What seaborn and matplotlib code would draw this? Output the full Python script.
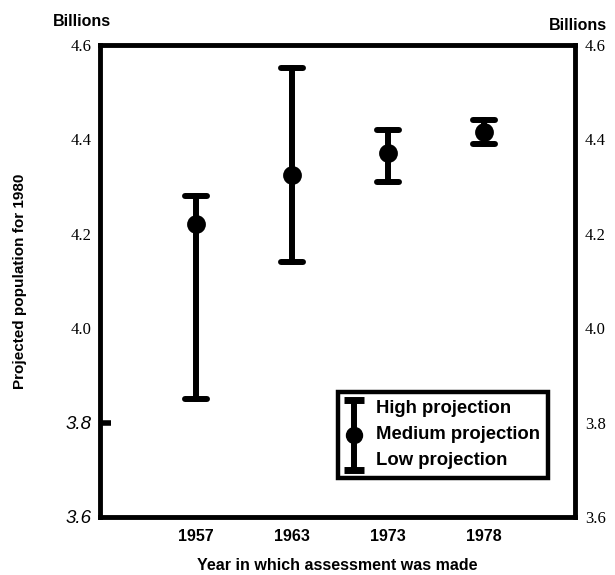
import matplotlib
matplotlib.use("Agg")
import matplotlib.pyplot as plt
import numpy as np
import pandas as pd
import seaborn as sns
from matplotlib.collections import LineCollection
from matplotlib.container import ErrorbarContainer
from matplotlib.legend_handler import HandlerErrorbar
from matplotlib.lines import Line2D

# values (billions)
YEARS = ["1957", "1963", "1973", "1978"]
LOW = [3.85, 4.14, 4.31, 4.39]
MEDIUM = [4.22, 4.325, 4.37, 4.415]
HIGH = [4.28, 4.55, 4.42, 4.44]

Y_TICKS = [3.6, 3.8, 4.0, 4.2, 4.4, 4.6]
Y_TICK_LABELS = ["3.6", "3.8", "4.0", "4.2", "4.4", "4.6"]
LEGEND_LABELS = ["High projection", "Medium projection", "Low projection"]

sns.set_style("white")
plt.rcParams.update({
    "font.family": ["Liberation Sans", "DejaVu Sans"],
    "text.color": "black",
    "axes.labelcolor": "black",
    "xtick.color": "black",
    "ytick.color": "black",
})

frame = pd.DataFrame({
    "year": YEARS * 3,
    "value": LOW + MEDIUM + HIGH,
})

fig = plt.figure(figsize=(6.15, 5.75), dpi=100)
ax = fig.add_axes([0.163, 0.101, 0.772, 0.821])

sns.pointplot(
    data=frame,
    x="year",
    y="value",
    order=YEARS,
    estimator="median",
    errorbar=("pi", 100),
    capsize=0.23,
    linestyle="none",
    marker="o",
    markersize=11.5,
    color="black",
    err_kws={"linewidth": 4.3, "solid_capstyle": "round"},
    ax=ax,
)

ax.set_xlim(-1.0, 3.95)
ax.set_ylim(3.6, 4.6)
for side in ["left", "right", "top", "bottom"]:
    ax.spines[side].set_visible(True)
    ax.spines[side].set_color("black")
    ax.spines[side].set_linewidth(3.5)

ax.set_yticks(Y_TICKS, labels=Y_TICK_LABELS)
ax.tick_params(axis="y", direction="in", length=0, pad=6)
for label in ax.get_yticklabels():
    if label.get_text() in ("3.6", "3.8"):
        label.set_fontfamily("Liberation Sans")
        label.set_fontstyle("italic")
        label.set_fontsize(13.5)
    else:
        label.set_fontfamily("Liberation Serif")
        label.set_fontsize(12)
# the little nub on the left spine at 3.8
for tick in ax.yaxis.get_major_ticks():
    if np.isclose(tick.get_loc(), 3.8):
        tick.tick1line.set_markersize(8)
        tick.tick1line.set_markeredgewidth(4)

ax.tick_params(axis="x", length=0, pad=9, labelsize=11.5)
for label in ax.get_xticklabels():
    label.set_fontweight("bold")
ax.set_xlabel("Year in which assessment was made", fontsize=11.5,
              fontweight="bold", labelpad=10)
ax.set_ylabel("Projected population for 1980", fontsize=11,
              fontweight="bold")
ax.yaxis.set_label_coords(-0.155, 0.5)

right = ax.twinx()
right.set_ylim(3.6, 4.6)
right.set_yticks(Y_TICKS, labels=Y_TICK_LABELS)
right.tick_params(axis="y", length=0, pad=7)
for label in right.get_yticklabels():
    label.set_fontfamily("Liberation Serif")
    label.set_fontsize(12)
for side in right.spines:
    right.spines[side].set_visible(False)
right.grid(False)

fig.text(53 / 615, 1 - 22 / 575, "Billions", fontsize=11.5,
         fontweight="bold", ha="left", va="center")
fig.text(549 / 615, 1 - 25 / 575, "Billions", fontsize=11.5,
         fontweight="bold", ha="left", va="center")

# legend: one error bar glyph next to the three labels
marker_proxy = Line2D([], [], color="black", marker="o", markersize=11.5,
                      linestyle="none")
cap_proxy = Line2D([], [], color="black", marker="_", markersize=15,
                   markeredgewidth=5)
bar_proxy = LineCollection([], colors="black", linewidths=4.3)
handle = ErrorbarContainer((marker_proxy, (cap_proxy, cap_proxy), (bar_proxy,)),
                           has_xerr=False, has_yerr=True)
leg = ax.legend(
    [handle],
    ["\n".join(LEGEND_LABELS)],
    handler_map={ErrorbarContainer: HandlerErrorbar(yerr_size=1.9)},
    loc="lower right",
    bbox_to_anchor=(0.943, 0.083),
    borderaxespad=0,
    fancybox=False,
    framealpha=1,
    edgecolor="black",
    prop={"weight": "bold", "size": 13.3},
    handlelength=0.9,
    handletextpad=0.7,
    borderpad=0.45,
)
leg.get_frame().set_linewidth(3.2)
for text in leg.get_texts():
    text.set_linespacing(1.7)

fig.savefig("out.png", dpi=100)
